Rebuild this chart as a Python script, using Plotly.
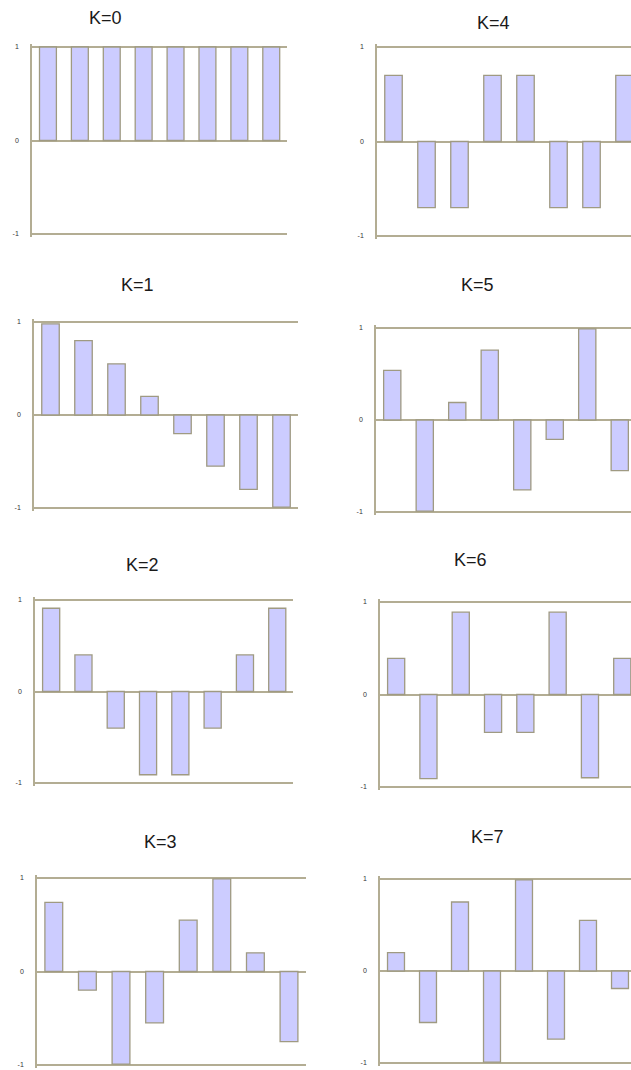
import plotly.graph_objects as go

# ---- data ----
samples = [0, 1, 2, 3, 4, 5, 6, 7]
titles = ["K=0", "K=1", "K=2", "K=3", "K=4", "K=5", "K=6", "K=7"]
k0 = [1.0, 1.0, 1.0, 1.0, 1.0, 1.0, 1.0, 1.0]
k1 = [0.98, 0.80, 0.55, 0.20, -0.20, -0.55, -0.80, -0.99]
k2 = [0.91, 0.40, -0.40, -0.91, -0.91, -0.40, 0.40, 0.91]
k3 = [0.74, -0.20, -0.99, -0.55, 0.55, 0.99, 0.20, -0.75]
k4 = [0.70, -0.70, -0.70, 0.70, 0.70, -0.70, -0.70, 0.70]
k5 = [0.54, -0.99, 0.19, 0.76, -0.76, -0.21, 0.99, -0.55]
k6 = [0.39, -0.91, 0.89, -0.41, -0.41, 0.89, -0.90, 0.39]
k7 = [0.20, -0.56, 0.75, -0.99, 0.99, -0.74, 0.55, -0.19]
series = [k0, k1, k2, k3, k4, k5, k6, k7]
tick_vals = [-1, 0, 1]
tick_text = ["-1", "0", "1"]

# ---- layout geometry (pixels) ----
W, H = 631, 1070
# axis_x, slot width, y(1) px, y(-1) px, title x, title y
geom = [
    (32, 31.9, 47, 234, 105, 18),
    (34, 33.0, 322, 508, 137, 285),
    (35, 32.3, 600, 783, 142, 565),
    (37, 33.6, 878, 1065, 160, 842),
    (377, 33.0, 47, 236, 493, 23),
    (376, 32.5, 328, 512, 477, 285),
    (380, 32.3, 602, 787, 470, 560),
    (380, 32.0, 879, 1063, 487, 837),
]

FILL = "#ccccff"
EDGE = "#9f9a82"
GRID = "#b3ad93"

fig = go.Figure()
layout = dict(
    width=W, height=H, margin=dict(l=0, r=0, t=0, b=0),
    paper_bgcolor="white", plot_bgcolor="white", showlegend=False,
    annotations=[],
)

for i, (ax, slot, y1, ym1, tx, ty) in enumerate(geom):
    xa = "x" if i == 0 else f"x{i+1}"
    ya = "y" if i == 0 else f"y{i+1}"
    fig.add_trace(go.Bar(
        x=samples, y=series[i], xaxis=xa, yaxis=ya, width=0.53,
        marker=dict(color=FILL, line=dict(color=EDGE, width=1.3)),
        hoverinfo="skip",
    ))
    right_px = min(ax + 8 * slot, W)
    x_dom = [ax / W, right_px / W]
    x_rng = [-0.5, -0.5 + (right_px - ax) / slot]
    ppu = (ym1 - y1) / 2.0
    top_px = max(y1 - 3, 0)
    bot_px = min(ym1 + 3, H)
    val = lambda px: 1 - (px - y1) / ppu
    y_dom = [1 - bot_px / H, 1 - top_px / H]
    y_rng = [val(bot_px), val(top_px)]

    xkey = "xaxis" if i == 0 else f"xaxis{i+1}"
    ykey = "yaxis" if i == 0 else f"yaxis{i+1}"
    layout[xkey] = dict(domain=x_dom, range=x_rng, anchor=ya, visible=False,
                        fixedrange=True)
    layout[ykey] = dict(domain=y_dom, range=y_rng, anchor=xa,
                        tickvals=tick_vals, ticktext=tick_text,
                        showgrid=True, gridcolor=GRID, gridwidth=1.5,
                        zeroline=True, zerolinecolor=GRID, zerolinewidth=1.5,
                        showline=True, linecolor=GRID, linewidth=1.5,
                        ticks="", ticklabelstandoff=10,
                        tickfont=dict(size=7, color="#333333",
                                      family="Liberation Sans, Arial"),
                        fixedrange=True)
    layout["annotations"].append(dict(
        text=titles[i], x=tx / W, y=1 - ty / H, xref="paper", yref="paper",
        xanchor="center", yanchor="middle", showarrow=False,
        font=dict(size=18, color="#1a1a1a", family="Liberation Sans, Arial"),
    ))

fig.update_layout(**layout)
fig.write_html(
    "out.html",
    config={"displayModeBar": False},
    post_script="document.body.style.margin='0px';document.body.style.overflow='hidden';",
)
